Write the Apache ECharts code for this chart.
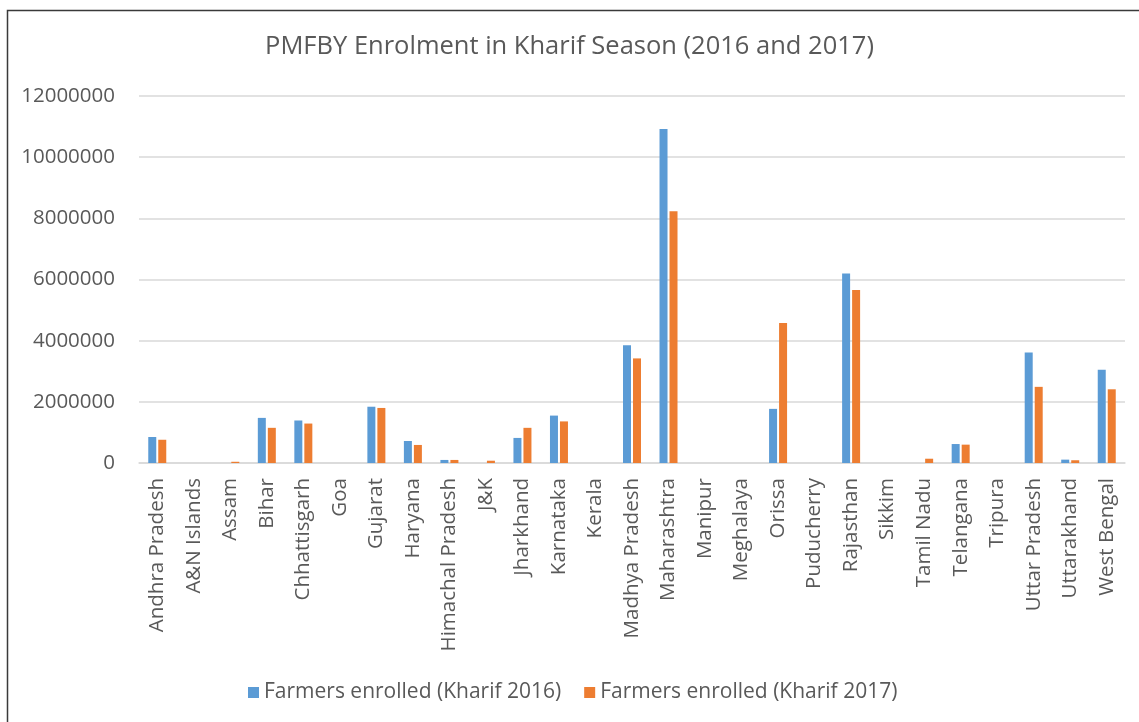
<!DOCTYPE html>
<html lang="en">
<head>
    <meta charset="UTF-8">
    <title>PMFBY Enrolment in Kharif Season</title>
    <script src="https://cdn.jsdelivr.net/npm/echarts@6/dist/echarts.min.js"></script>
    <style>
        * { padding: 0; margin: 0; }
        #chart { width: 1139px; height: 722px; background: #fff; }
    </style>
</head>
<body>
<div id="chart"></div>
<script>
    var states = ['Andhra Pradesh', 'A&N Islands', 'Assam', 'Bihar', 'Chhattisgarh', 'Goa', 'Gujarat',
        'Haryana', 'Himachal Pradesh', 'J&K', 'Jharkhand', 'Karnataka', 'Kerala', 'Madhya Pradesh',
        'Maharashtra', 'Manipur', 'Meghalaya', 'Orissa', 'Puducherry', 'Rajasthan', 'Sikkim',
        'Tamil Nadu', 'Telangana', 'Tripura', 'Uttar Pradesh', 'Uttarakhand', 'West Bengal'];
    var kharif2016 = [850000, 0, 0, 1475000, 1390000, 0, 1840000,
        720000, 100000, 0, 820000, 1550000, 0, 3850000,
        10920000, 0, 0, 1770000, 0, 6200000, 0,
        0, 620000, 0, 3610000, 110000, 3050000];
    var kharif2017 = [760000, 0, 40000, 1150000, 1290000, 0, 1800000,
        590000, 100000, 75000, 1150000, 1360000, 0, 3420000,
        8230000, 0, 0, 4580000, 0, 5660000, 0,
        140000, 600000, 0, 2490000, 90000, 2410000];
    var yTicks = [0, 2000000, 4000000, 6000000, 8000000, 10000000, 12000000];

    var txt = '#595959';
    var font = 'Open Sans';
    var chart = echarts.init(document.getElementById('chart'));
    chart.setOption({
        backgroundColor: '#ffffff',
        animation: false,
        textStyle: { fontFamily: font },
        graphic: [{
            type: 'rect',
            shape: { x: 7.5, y: 10.5, width: 1160, height: 740 },
            style: { fill: 'none', stroke: '#3a3a3a', lineWidth: 1.5 }
        }],
        title: {
            text: 'PMFBY Enrolment in Kharif Season (2016 and 2017)',
            left: 'center',
            top: 29,
            textStyle: { fontFamily: font, fontSize: 25.5, fontWeight: 'normal', color: txt }
        },
        legend: {
            bottom: 14,
            left: 243,
            itemWidth: 11,
            itemHeight: 11,
            itemGap: 23,
            icon: 'rect',
            textStyle: { fontFamily: font, fontSize: 21, color: txt }
        },
        grid: { left: 139, right: 14, top: 96, bottom: 259 },
        xAxis: {
            type: 'category',
            data: states,
            axisLine: { lineStyle: { color: '#D9D9D9', width: 1.5 } },
            axisTick: { show: false },
            axisLabel: {
                rotate: 90,
                interval: 0,
                margin: 15,
                fontFamily: font,
                fontSize: 20.5,
                color: txt
            }
        },
        yAxis: {
            type: 'value',
            min: yTicks[0],
            max: yTicks[yTicks.length - 1],
            interval: yTicks[1] - yTicks[0],
            axisLine: { show: false },
            axisTick: { show: false },
            splitLine: { lineStyle: { color: '#D9D9D9', width: 1.5 } },
            axisLabel: {
                margin: 24,
                fontFamily: font,
                fontSize: 20.5,
                color: txt,
                formatter: function (v) { return String(v); }
            }
        },
        series: [{
            name: 'Farmers enrolled (Kharif 2016)',
            type: 'bar',
            data: kharif2016,
            barWidth: 8,
            barGap: '25%',
            itemStyle: { color: '#5B9BD5' }
        }, {
            name: 'Farmers enrolled (Kharif 2017)',
            type: 'bar',
            data: kharif2017,
            barWidth: 8,
            itemStyle: { color: '#ED7D31' }
        }]
    });
</script>
</body>
</html>
